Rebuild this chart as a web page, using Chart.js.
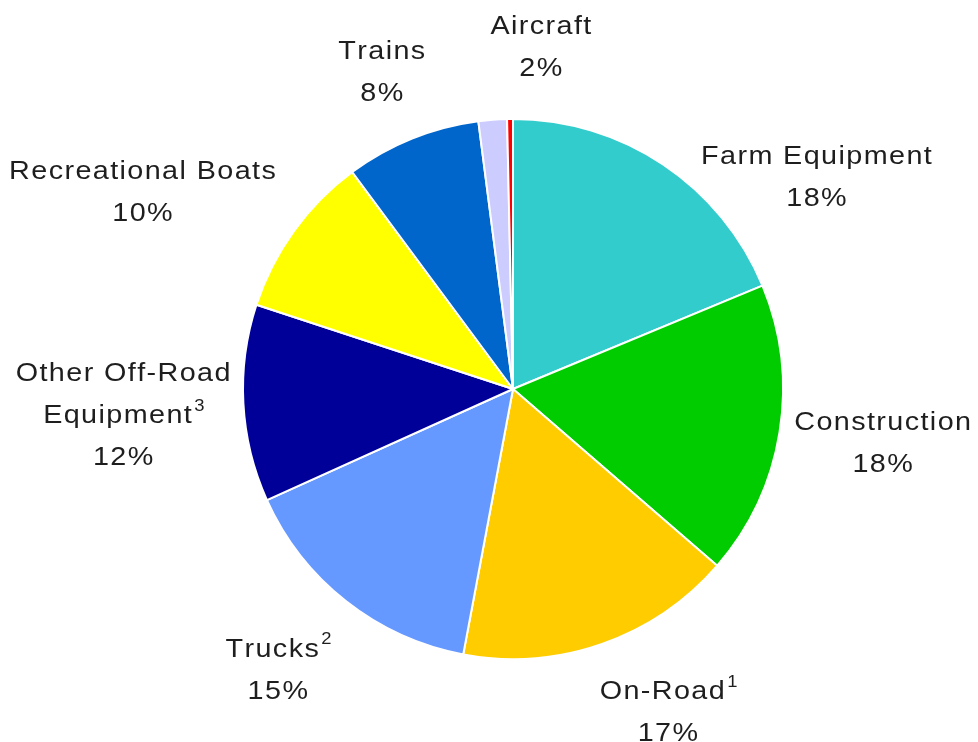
<!DOCTYPE html>
<html>
<head>
<meta charset="utf-8">
<script src="https://cdn.jsdelivr.net/npm/chart.js@4/dist/chart.umd.min.js"></script>
<style>
  html, body { margin: 0; background: #fff; }
  #wrap { width: 978px; height: 742px; }
</style>
</head>
<body>
<div id="wrap"><canvas id="chart" width="978" height="742"></canvas></div>
<script>
// slice names (one entry per line), footnote marks, shares and printed percentages
const categories = [['Farm Equipment'], ['Construction'], ['On-Road'], ['Trucks'], ['Other Off-Road', 'Equipment'], ['Recreational Boats'], ['Trains'], ['Aircraft'], ['']]
const notes = ['', '', '1', '2', '3', '', '', '', '']
const shares = [18.75, 17.6, 16.6, 15.3, 11.8, 9.8, 8.1, 1.7, 0.35]
const printed = ['18%', '18%', '17%', '15%', '12%', '10%', '8%', '2%', '']
const colors = ['#33CCCC', '#00CC00', '#FFCC00', '#6699FF', '#000099', '#FFFF00', '#0066CC', '#CCCCFF', '#FF0000']

const FONT = '"Liberation Sans", Arial, sans-serif'
const SIZE = 25
const STRETCH = 1.15 // wide lettering
const TRACK = 1.4
const LINE_H = 42

// which side of the label box sits on the ray; null = automatic
const labelAlign = { 0: [1.2, 0.85], 6: [-0.45, null], 7: [1, null] }

function clamp(v) {
	return Math.max(-1, Math.min(1, v))
}

function spacedWidth(ctx, text) {
	let w = 0
	for (const ch of text) w += ctx.measureText(ch).width * STRETCH + TRACK
	return text.length ? w - TRACK : 0
}
function drawSpaced(ctx, text, x, y) {
	for (const ch of text) {
		ctx.save()
		ctx.translate(x, y)
		ctx.scale(STRETCH, 1)
		ctx.fillText(ch, 0, 0)
		ctx.restore()
		x += ctx.measureText(ch).width * STRETCH + TRACK
	}
	return x
}

const outsideLabels = {
	id: 'outsideLabels',
	afterDatasetsDraw(chart) {
		const { ctx } = chart
		const meta = chart.getDatasetMeta(0)
		ctx.save()
		ctx.fillStyle = '#1e1e1e'
		ctx.textBaseline = 'middle'
		ctx.textAlign = 'left'
		meta.data.forEach((arc, i) => {
			if (!printed[i]) return
			const { x, y, startAngle, endAngle, outerRadius } = arc.getProps(['x', 'y', 'startAngle', 'endAngle', 'outerRadius'], true)
			const mid = (startAngle + endAngle) / 2
			const dx = Math.cos(mid)
			const dy = Math.sin(mid)

			const lines = categories[i].concat([printed[i]])
			const big = `${SIZE}px ${FONT}`
			const small = `${Math.round(SIZE * 0.64)}px ${FONT}`
			const noteLine = lines.length - 2
			const widths = lines.map((t, k) => {
				ctx.font = big
				let w = spacedWidth(ctx, t)
				if (notes[i] && k === noteLine) {
					ctx.font = small
					w += 1 + ctx.measureText(notes[i]).width * STRETCH
				}
				return w
			})
			const w = Math.max(...widths)
			const h = lines.length * LINE_H

			// labels sit a bit further out above and below the pie
			const r = outerRadius + 12 + 18 * Math.abs(dy)
			const px = x + dx * r
			const py = y + dy * r
			const [ax, ay] = labelAlign[i] || [null, null]
			const sx = ax ?? clamp(dx * 2.5)
			const sy = ay ?? (dy < 0 ? dy : clamp(dy * 1.5))
			const cx = px + sx * w / 2
			const cy = py + sy * h / 2 + (dx < 0 && dy >= 0 ? 7 : 0)

			lines.forEach((t, k) => {
				const ly = cy - h / 2 + LINE_H * (k + 0.5)
				ctx.font = big
				const end = drawSpaced(ctx, t, cx - widths[k] / 2, ly)
				if (notes[i] && k === noteLine) {
					ctx.font = small
					drawSpaced(ctx, notes[i], end + 1, ly - 10)
				}
			})
		})
		ctx.restore()
	},
}

new Chart(document.getElementById('chart'), {
	type: 'pie',
	data: {
		labels: categories.map((c) => c.join(' ')),
		datasets: [{
			data: shares,
			backgroundColor: colors,
			borderColor: '#ffffff',
			borderWidth: 2,
			hoverOffset: 0,
		}],
	},
	options: {
		responsive: false,
		animation: false,
		layout: { padding: { top: 118, bottom: 82, left: 242, right: 194 } },
		plugins: {
			legend: { display: false },
			tooltip: { enabled: false },
		},
	},
	plugins: [outsideLabels],
})
</script>
</body>
</html>
